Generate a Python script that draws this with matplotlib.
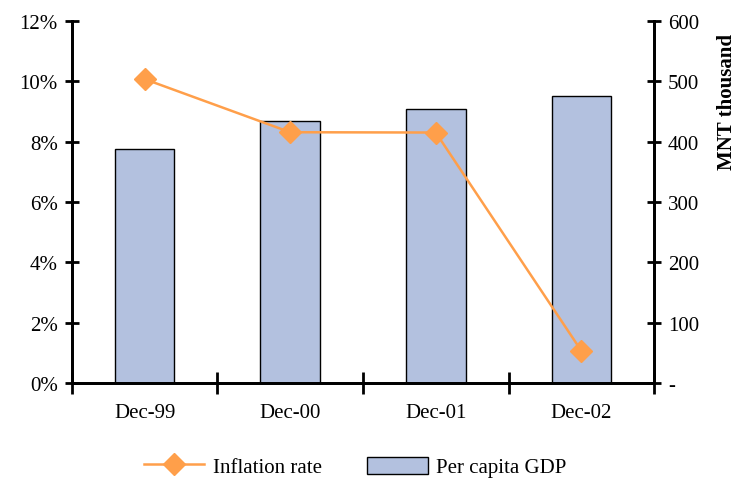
import numpy as np
import matplotlib
matplotlib.use("Agg")
import matplotlib.pyplot as plt
from matplotlib.ticker import FuncFormatter

plt.rcParams['font.family'] = ['Liberation Serif', 'DejaVu Serif']
plt.rcParams['font.size'] = 15

categories = ['Dec-99', 'Dec-00', 'Dec-01', 'Dec-02']
inflation = [10.07, 8.31, 8.30, 1.07]       # percent
gdp_per_capita = [387, 434, 454, 475]       # MNT thousand

bar_color = '#B3C1DF'
line_color = '#FF9F4A'

fig = plt.figure(figsize=(7.4, 4.85), dpi=100)
ax = fig.add_axes([0.097, 0.208, 0.787, 0.747])
ax2 = ax.twinx()

x = np.arange(len(categories))

# bars on the right axis
ax2.bar(x, gdp_per_capita, width=0.41, color=bar_color, edgecolor='black', linewidth=1.0,
        label='Per capita GDP')
ax2.set_ylim(0, 600)
ax2.set_yticks(np.arange(0, 601, 100))
ax2.yaxis.set_major_formatter(FuncFormatter(lambda v, p: '-' if v == 0 else f'{int(v)}'))
ax2.set_ylabel('MNT thousand', fontweight='bold')
ax2.yaxis.set_label_coords(1.108, 0.78)

# inflation line on left axis, drawn on top
ax.plot(x, inflation, color=line_color, linewidth=1.8, marker='D', markersize=11,
        label='Inflation rate')
ax.set_zorder(ax2.get_zorder() + 1)
ax.patch.set_visible(False)
ax.set_ylim(0, 12)
ax.set_yticks(np.arange(0, 13, 2))
ax.yaxis.set_major_formatter(FuncFormatter(lambda v, p: f'{int(v)}%'))

ax.set_xlim(-0.5, len(categories) - 0.5)
ax.set_xticks(np.arange(-0.5, len(categories), 1.0))
ax.set_xticklabels([])
ax.set_xticks(x, minor=True)
ax.set_xticklabels(categories, minor=True)
ax.tick_params(axis='x', which='minor', length=0, pad=14)
ax.tick_params(axis='x', which='major', direction='inout', length=16, width=2.0)
ax.tick_params(axis='y', direction='inout', length=10, width=2.0, pad=5)
ax2.tick_params(axis='y', direction='inout', length=10, width=2.0, pad=5)

for a in (ax, ax2):
    a.spines['top'].set_visible(False)
    for s in ('left', 'right', 'bottom'):
        a.spines[s].set_linewidth(2.0)

h1, l1 = ax.get_legend_handles_labels()
h2, l2 = ax2.get_legend_handles_labels()
fig.legend(h1 + h2, l1 + l2, loc='lower center', bbox_to_anchor=(0.48, -0.025), ncol=2,
           frameon=False, handlelength=2.9, handleheight=0.9, handletextpad=0.4,
           columnspacing=2.2)

fig.savefig('out.png', dpi=100)
